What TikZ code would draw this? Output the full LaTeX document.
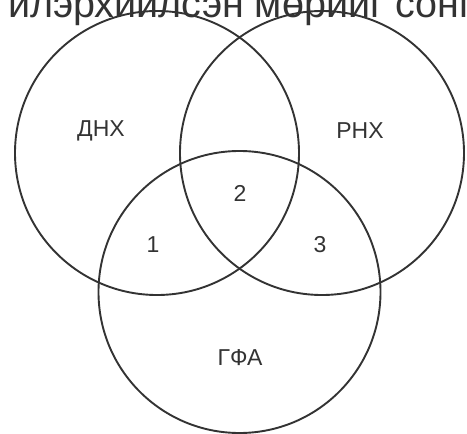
\documentclass[tikz,border=0pt]{standalone}
\usepackage{fontspec}
\setmainfont{Liberation Sans}
\definecolor{ink}{HTML}{333333}
\begin{document}
\begin{tikzpicture}[x=1pt,y=-1pt,
  ring/.style={draw=ink,line width=1.9pt},
  lbl/.style={text=ink,font=\fontsize{23}{26}\selectfont,inner sep=0pt}]
\useasboundingbox (0,0) rectangle (467,434);
\clip (0,0) rectangle (467,434);
\node[anchor=base west,inner sep=0pt,text=ink,font=\fontsize{39.5}{44}\selectfont] (title) at (8,17.5) {илэрхийлсэн мөрийг сонго};
\node[ring,circle,minimum size=284pt,inner sep=0pt] (dnh) at (157,153) {};
\node[ring,circle,minimum size=284pt,inner sep=0pt] (rnh) at (322,153) {};
\node[ring,circle,minimum size=282pt,inner sep=0pt] (gfa) at (239.5,292) {};
\node[lbl] (l1) at (101,131) {ДНХ};
\node[lbl] (l2) at (360,131) {РНХ};
\node[lbl] (n2) at (240,193) {2};
\node[lbl] (n1) at (153,245) {1};
\node[lbl] (n3) at (320,245) {3};
\node[lbl] (l3) at (240,358) {ГФА};
\end{tikzpicture}
\end{document}
